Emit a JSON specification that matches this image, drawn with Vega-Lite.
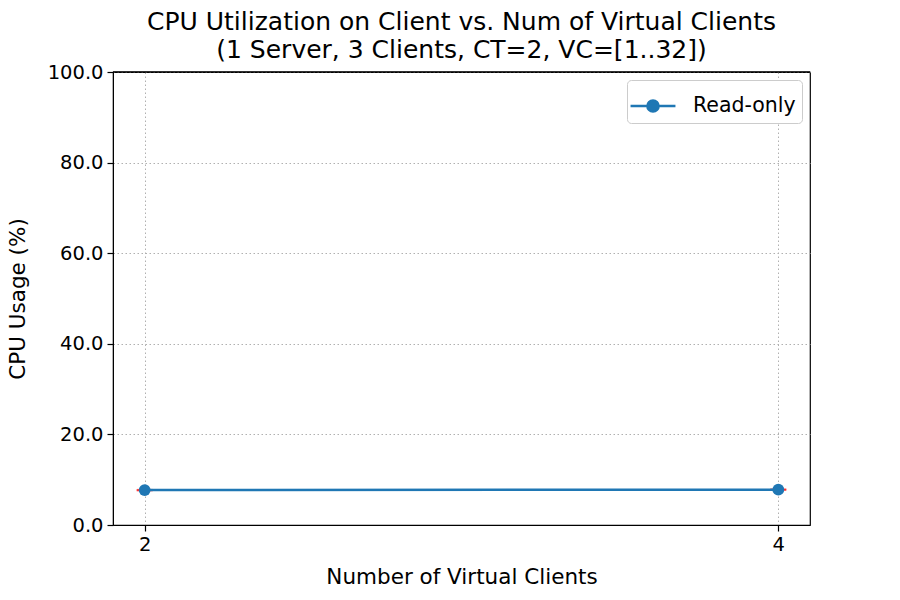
{
  "$schema": "https://vega.github.io/schema/vega-lite/v6.json",
  "width": 697,
  "height": 453,
  "autosize": {"type": "none"},
  "padding": {"left": 113, "top": 72, "right": 90, "bottom": 75},
  "background": "white",
  "config": {
    "font": "DejaVu Sans",
    "view": {"stroke": "black", "strokeWidth": 1.2},
    "axis": {
      "labelFont": "DejaVu Sans",
      "titleFont": "DejaVu Sans",
      "labelFontSize": 19.5,
      "titleFontSize": 21.5,
      "titleFontWeight": "normal",
      "labelColor": "black",
      "titleColor": "black",
      "domainColor": "black",
      "tickColor": "black",
      "tickSize": 6,
      "tickWidth": 1.2,
      "gridColor": "#b0b0b0",
      "gridDash": [1.5, 2.5],
      "gridWidth": 1
    }
  },
  "title": {
    "text": ["CPU Utilization on Client vs. Num of Virtual Clients", "(1 Server, 3 Clients, CT=2, VC=[1..32])"],
    "font": "DejaVu Sans",
    "fontSize": 25,
    "fontWeight": "normal",
    "color": "black",
    "anchor": "middle",
    "lineHeight": 28,
    "offset": -1
  },
  "data": {
    "values": [
      {"vc": 2, "cpu": 7.7, "err": 0.1, "series": "Read-only"},
      {"vc": 4, "cpu": 7.8, "err": 0.1, "series": "Read-only"}
    ]
  },
  "layer": [
    {
      "transform": [{"calculate": "datum.cpu - datum.err", "as": "lo"}],
      "mark": {"type": "tick", "color": "red", "thickness": 1.5, "size": 16, "orient": "horizontal"},
      "encoding": {
        "x": {"field": "vc", "type": "quantitative"},
        "y": {"field": "lo", "type": "quantitative"}
      }
    },
    {
      "transform": [{"calculate": "datum.cpu + datum.err", "as": "hi"}],
      "mark": {"type": "tick", "color": "red", "thickness": 1.5, "size": 16, "orient": "horizontal"},
      "encoding": {
        "x": {"field": "vc", "type": "quantitative"},
        "y": {"field": "hi", "type": "quantitative"}
      }
    },
    {
      "mark": {"type": "line", "strokeWidth": 2.5, "color": "#1f77b4"},
      "encoding": {
        "x": {"field": "vc", "type": "quantitative"},
        "y": {"field": "cpu", "type": "quantitative"}
      }
    },
    {
      "mark": {"type": "rule", "color": "black", "strokeWidth": 1.2},
      "encoding": {
        "y": {"datum": 100, "type": "quantitative"}
      }
    },
    {
      "mark": {"type": "point", "filled": true, "opacity": 1, "size": 140, "shape": "circle"},
      "encoding": {
        "x": {
          "field": "vc", "type": "quantitative",
          "scale": {"domain": [1.9, 4.1], "nice": false, "zero": false},
          "axis": {"values": [2, 4], "format": "d", "title": "Number of Virtual Clients", "titlePadding": 13, "labelPadding": 4}
        },
        "y": {
          "field": "cpu", "type": "quantitative",
          "scale": {"domain": [0, 100], "nice": false},
          "axis": {"values": [0, 20, 40, 60, 80, 100], "format": ".1f", "title": "CPU Usage (%)", "titlePadding": 18, "labelPadding": 4}
        },
        "color": {
          "field": "series", "type": "nominal",
          "scale": {"range": ["#1f77b4"]},
          "legend": {
            "title": null,
            "orient": "top-right",
            "offset": 8,
            "labelFontSize": 20.5,
            "labelFont": "DejaVu Sans",
            "labelColor": "black",
            "symbolType": "M-1.2,0L1.2,0M-0.3,0A0.3,0.3 0 1,1 0.3,0A0.3,0.3 0 1,1 -0.3,0Z",
            "symbolSize": 1400,
            "symbolStrokeWidth": 2.5,
            "symbolStrokeColor": "#1f77b4",
            "symbolFillColor": "#1f77b4",
            "fillColor": "white",
            "strokeColor": "#cccccc",
            "cornerRadius": 4,
            "padding": 6,
            "labelOffset": 20
          }
        }
      }
    }
  ]
}
